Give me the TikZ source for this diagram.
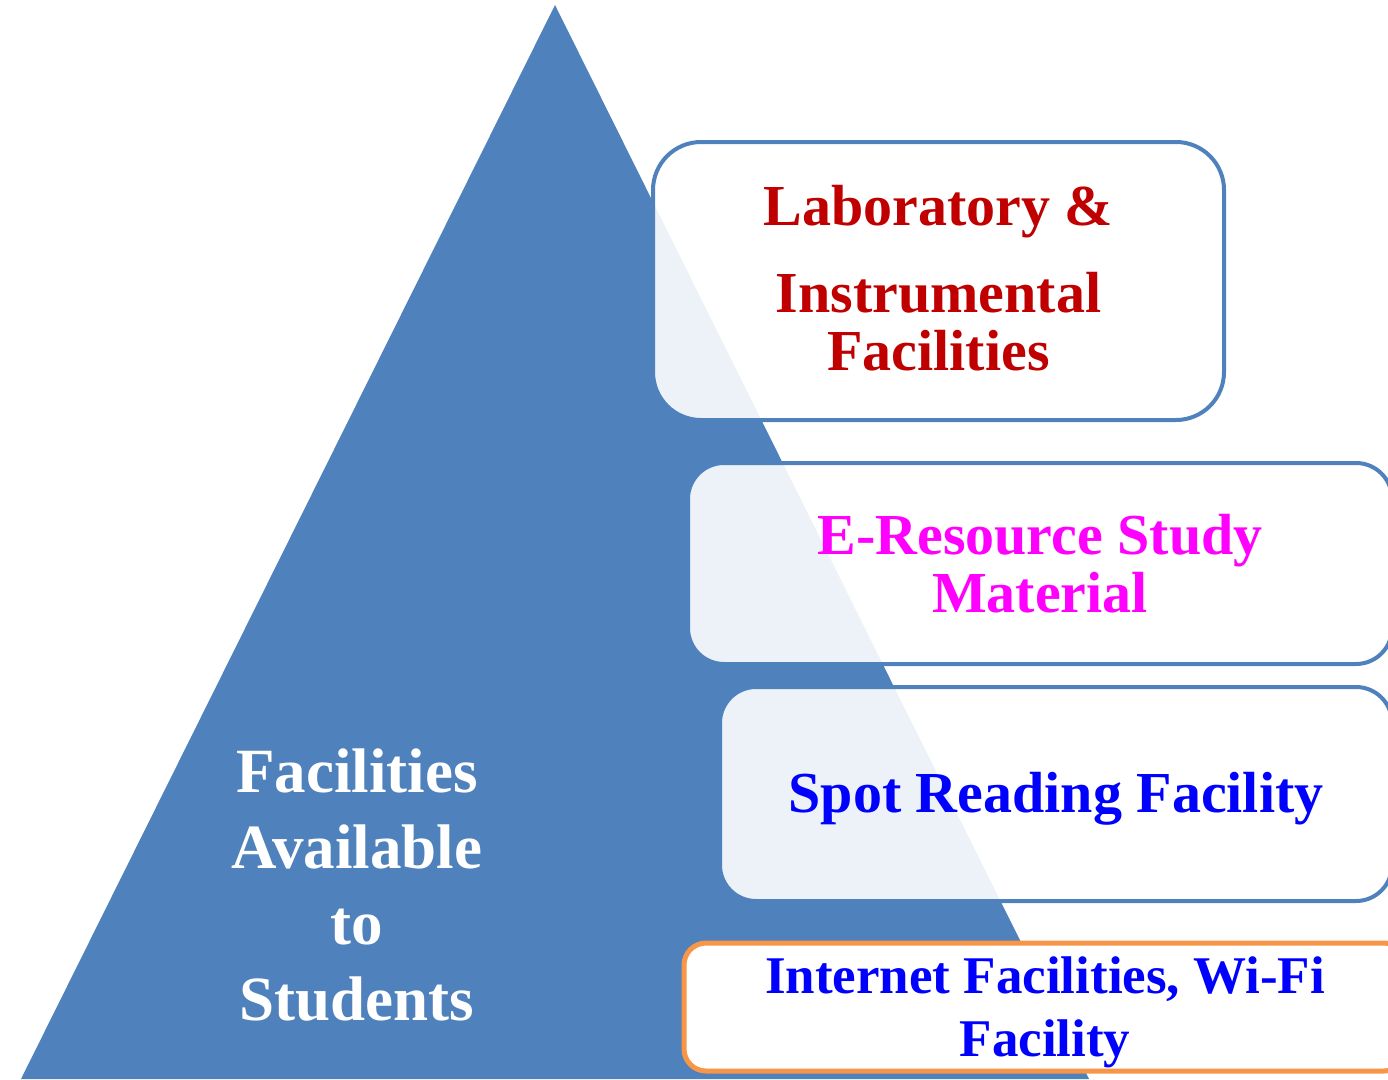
\documentclass[tikz,border=0pt]{standalone}
\usepackage{fontspec}
\setmainfont{Liberation Serif}
\definecolor{pyrblue}{HTML}{4F81BD}
\definecolor{labred}{HTML}{C00000}
\definecolor{resmagenta}{HTML}{FF00FF}
\definecolor{spotblue}{HTML}{0000FF}
\definecolor{netorange}{HTML}{F79646}
\tikzset{
  facility/.style={draw=pyrblue, line width=4pt, fill=white, fill opacity=0.9,
    text opacity=1, align=center, inner sep=0pt,
    font=\bfseries\fontsize{58}{58}\selectfont},
}
\begin{document}
\begin{tikzpicture}[x=1pt,y=-1pt]
    % Page
    \useasboundingbox (0,0) rectangle (1388,1079);
    \clip (0,0) rectangle (1388,1079);

    % Pyramid
    \coordinate (apex) at (555,5);
    \coordinate (baseL) at (21,1079);
    \coordinate (baseR) at (1089,1079);
    \fill[pyrblue] (apex) -- (baseL) -- (baseR) -- cycle;
    \node[text=white, align=center, font=\bfseries\fontsize{63}{76}\selectfont]
        (title) at (357,885) {Facilities\\Available\\to\\Students};

    % Facility boxes
    \node[facility, rounded corners=48pt, minimum width=571pt, minimum height=278pt,
        text=labred] (lab) at (938.5,281)
        {Laboratory \&\\[29pt]Instrumental\\Facilities\rule[-6pt]{0pt}{6pt}};
    \node[facility, rounded corners=36pt, minimum width=704pt, minimum height=201pt,
        text=resmagenta] (eres) at (1040,563.5) {E-Resource Study\\Material};
    \node[facility, rounded corners=36pt, minimum width=672pt, minimum height=214pt,
        text=spotblue] (spot) at (1056,794) {\rule{0pt}{50pt}Spot Reading Facility};
    \node[facility, draw=netorange, line width=5pt, fill opacity=1, rounded corners=22pt,
        minimum width=722pt, minimum height=128pt, text=spotblue,
        font=\bfseries\fontsize{53}{63}\selectfont]
        (net) at (1045,1007) {\rule{0pt}{48pt}Internet Facilities, Wi-Fi\\Facility};
\end{tikzpicture}
\end{document}
